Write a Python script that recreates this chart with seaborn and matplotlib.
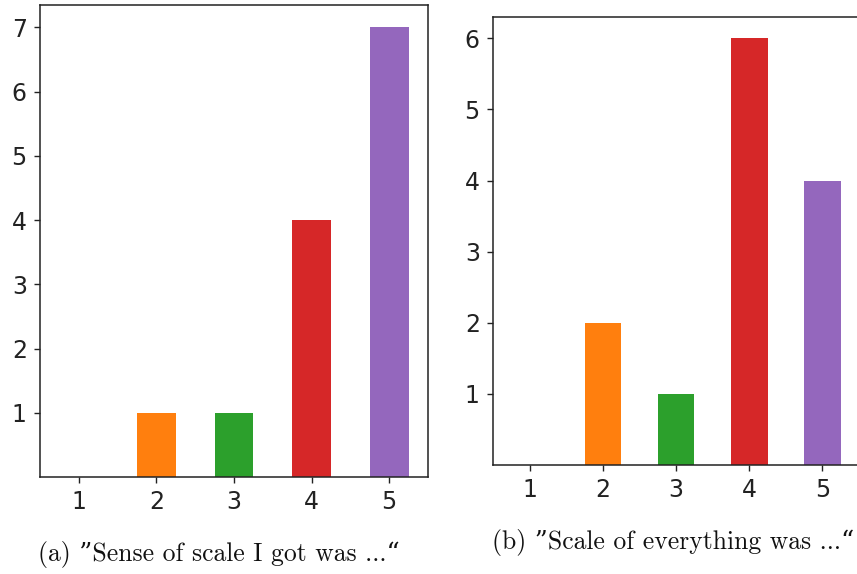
import numpy as np
import pandas as pd
import matplotlib
matplotlib.use("Agg")
import matplotlib.pyplot as plt
import seaborn as sns

# ---- data ----
categories = ["1", "2", "3", "4", "5"]
sense_counts = [0, 1, 1, 4, 7]
everything_counts = [0, 2, 1, 6, 4]
caption_a = "(a) \u201dSense of scale I got was ...\u201c"
caption_b = "(b) \u201dScale of everything was ...\u201c"

palette = ["#1f77b4", "#ff7f0e", "#2ca02c", "#d62728", "#9467bd"]

sns.set_style("ticks")
plt.rcParams["font.family"] = ["DejaVu Sans"]

W, H = 857, 574
fig = plt.figure(figsize=(W / 100, H / 100), dpi=100)
ax1 = fig.add_axes([40 / W, 1 - 477 / H, 388 / W, 472 / H])
ax2 = fig.add_axes([493 / W, 1 - 465 / H, 366 / W, 448 / H])

def draw(ax, vals, ymax):
    df = pd.DataFrame({"cat": categories, "count": vals})
    sns.barplot(data=df, x="cat", y="count", hue="cat", order=categories,
                hue_order=categories, palette=palette, width=0.5,
                saturation=1, legend=False, linewidth=0, ax=ax)
    ax.set_xlim(-0.5, 4.5)
    ax.set_ylim(0, ymax * 1.05)
    ax.set_yticks(range(1, ymax + 1))
    ax.set_xlabel("")
    ax.set_ylabel("")
    ax.tick_params(labelsize=17, length=4.5, width=1, pad=5,
                   colors="#222222")
    for s in ax.spines.values():
        s.set_visible(True)
        s.set_linewidth(1.1)
        s.set_color("#222222")

draw(ax1, sense_counts, 7)
draw(ax2, everything_counts, 6)

cap_font = ["cmr10", "DejaVu Serif"]
fig.text(219 / W, 1 - 555 / H, caption_a, family=cap_font, fontsize=18.5,
         ha="center", va="center", color="#111111")
fig.text(673 / W, 1 - 542 / H, caption_b, family=cap_font, fontsize=18.5,
         ha="center", va="center", color="#111111")

fig.savefig("out.png", dpi=100)
